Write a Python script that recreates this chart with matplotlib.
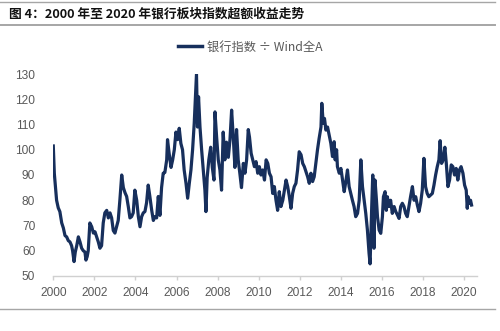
import matplotlib
matplotlib.use("Agg")
import matplotlib.pyplot as plt
from matplotlib.lines import Line2D

# Bank sector index relative to Wind All-A (decimal years)
years = [
    2000.00, 2000.05, 2000.11, 2000.16, 2000.24, 2000.32, 2000.41, 2000.49, 2000.57, 2000.65,
    2000.73, 2000.81, 2000.89, 2000.94, 2001.01, 2001.07, 2001.14, 2001.22, 2001.30, 2001.38,
    2001.46, 2001.54, 2001.59, 2001.65, 2001.70, 2001.78, 2001.87, 2001.95, 2002.03, 2002.11,
    2002.19, 2002.27, 2002.35, 2002.43, 2002.51, 2002.60, 2002.68, 2002.76, 2002.84, 2002.92,
    2003.00, 2003.08, 2003.16, 2003.24, 2003.33, 2003.41, 2003.49, 2003.57, 2003.65, 2003.73,
    2003.81, 2003.89, 2003.97, 2004.06, 2004.14, 2004.22, 2004.30, 2004.38, 2004.46, 2004.54,
    2004.62, 2004.70, 2004.79, 2004.87, 2004.95, 2005.03, 2005.11, 2005.19, 2005.27, 2005.35,
    2005.43, 2005.52, 2005.56, 2005.64, 2005.73, 2005.81, 2005.89, 2005.97, 2006.05, 2006.13,
    2006.21, 2006.29, 2006.37, 2006.46, 2006.54, 2006.62, 2006.70, 2006.78, 2006.86, 2006.91,
    2006.97, 2007.02, 2007.07, 2007.14, 2007.22, 2007.30, 2007.38, 2007.43, 2007.49, 2007.57,
    2007.66, 2007.74, 2007.82, 2007.87, 2007.95, 2008.03, 2008.11, 2008.19, 2008.27, 2008.35,
    2008.43, 2008.52, 2008.60, 2008.68, 2008.76, 2008.84, 2008.92, 2009.00, 2009.08, 2009.16,
    2009.25, 2009.33, 2009.41, 2009.49, 2009.55, 2009.63, 2009.71, 2009.79, 2009.87, 2009.95,
    2010.03, 2010.11, 2010.19, 2010.28, 2010.36, 2010.44, 2010.52, 2010.60, 2010.68, 2010.76,
    2010.84, 2010.92, 2011.00, 2011.08, 2011.17, 2011.25, 2011.33, 2011.41, 2011.49, 2011.57,
    2011.65, 2011.73, 2011.81, 2011.89, 2011.97, 2012.06, 2012.14, 2012.22, 2012.30, 2012.38,
    2012.46, 2012.54, 2012.62, 2012.70, 2012.78, 2012.86, 2012.94, 2013.03, 2013.07, 2013.14,
    2013.20, 2013.27, 2013.35, 2013.43, 2013.51, 2013.59, 2013.67, 2013.72, 2013.79, 2013.83,
    2013.92, 2014.00, 2014.08, 2014.16, 2014.24, 2014.32, 2014.40, 2014.48, 2014.56, 2014.64,
    2014.72, 2014.81, 2014.89, 2014.97, 2015.05, 2015.13, 2015.21, 2015.29, 2015.37, 2015.42,
    2015.50, 2015.55, 2015.61, 2015.66, 2015.73, 2015.78, 2015.86, 2015.94, 2016.02, 2016.07,
    2016.15, 2016.21, 2016.26, 2016.34, 2016.42, 2016.50, 2016.59, 2016.67, 2016.75, 2016.83,
    2016.91, 2016.99, 2017.07, 2017.15, 2017.23, 2017.31, 2017.39, 2017.48, 2017.56, 2017.64,
    2017.72, 2017.80, 2017.88, 2017.96, 2018.04, 2018.12, 2018.20, 2018.28, 2018.37, 2018.45,
    2018.53, 2018.61, 2018.69, 2018.77, 2018.83, 2018.90, 2018.98, 2019.06, 2019.13, 2019.21,
    2019.29, 2019.37, 2019.45, 2019.53, 2019.61, 2019.69, 2019.77, 2019.85, 2019.94, 2020.02,
    2020.10, 2020.15, 2020.19, 2020.26, 2020.31, 2020.36,
]
ratio = [
    101.5, 90.6, 85.0, 80.0, 77.0, 75.5, 71.0, 69.0, 66.0, 65.5,
    64.0, 63.5, 62.0, 60.0, 55.7, 59.5, 62.0, 65.5, 63.5, 61.0,
    60.0, 59.5, 56.3, 57.7, 60.0, 71.0, 69.5, 67.0, 67.5, 65.5,
    63.5, 61.0, 62.0, 71.0, 75.0, 76.0, 73.0, 75.0, 73.0, 68.0,
    67.0, 69.5, 72.0, 80.0, 90.0, 85.0, 83.0, 81.5, 77.5, 73.0,
    73.5, 75.0, 84.0, 80.0, 73.5, 69.5, 73.5, 75.0, 75.5, 79.0,
    86.0, 81.5, 76.0, 72.0, 73.5, 73.0, 81.5, 74.0, 85.0, 90.7,
    91.0, 96.0, 104.0, 98.5, 93.0, 96.0, 100.0, 107.0, 104.0, 108.5,
    102.5, 100.0, 92.0, 86.7, 80.8, 86.7, 92.0, 100.0, 110.5, 119.7,
    130.0, 109.0, 121.0, 109.0, 100.0, 92.0, 84.0, 75.5, 89.0, 96.0,
    101.0, 93.0, 88.0, 115.0, 105.0, 96.0, 92.0, 84.0, 107.0, 96.0,
    103.0, 97.0, 104.0, 115.7, 105.0, 93.0, 108.0, 96.0, 90.7, 85.0,
    94.6, 90.7, 96.0, 108.0, 105.0, 98.6, 96.0, 93.3, 95.3, 90.7,
    93.3, 90.0, 92.0, 88.0, 96.0, 94.6, 90.7, 89.3, 82.7, 85.4,
    80.0, 76.0, 83.4, 77.5, 80.0, 84.0, 88.0, 85.4, 81.4, 76.8,
    82.7, 85.4, 86.7, 92.0, 99.2, 98.0, 94.6, 93.3, 91.3, 89.3,
    86.7, 90.7, 87.4, 89.3, 94.6, 100.0, 104.5, 109.0, 118.4, 110.5,
    112.4, 107.8, 109.0, 105.8, 102.5, 97.3, 103.2, 96.0, 100.0, 93.3,
    90.7, 92.6, 88.0, 83.4, 87.4, 92.0, 85.4, 82.7, 80.0, 77.5,
    73.5, 74.8, 80.0, 96.0, 85.4, 80.0, 74.8, 68.2, 59.0, 54.8,
    77.5, 90.0, 61.0, 88.0, 80.0, 73.5, 68.2, 66.9, 73.5, 81.4,
    83.4, 76.0, 81.4, 77.5, 80.0, 74.8, 77.5, 75.5, 74.2, 72.8,
    77.5, 78.8, 77.5, 74.8, 73.5, 77.5, 81.4, 85.4, 80.0, 81.4,
    78.1, 75.5, 78.8, 84.0, 96.6, 85.4, 82.7, 81.4, 82.1, 82.7,
    86.0, 90.0, 93.3, 96.0, 103.6, 94.6, 96.0, 101.0, 94.6, 85.4,
    88.0, 94.0, 93.3, 90.0, 92.6, 88.0, 92.0, 93.3, 90.7, 86.0,
    84.0, 76.8, 81.4, 78.8, 80.0, 78.1,
]

x_ticks = [2000, 2002, 2004, 2006, 2008, 2010, 2012, 2014, 2016, 2018, 2020]
y_ticks = [50, 60, 70, 80, 90, 100, 110, 120, 130]

title_text = "图 4：2000 年至 2020 年银行板块指数超额收益走势"
series_label = "银行指数 ÷ Wind全A"

LINE_COLOR = "#172f5c"
TEXT_GRAY = "#595959"
RULE_GRAY = "#a6a6a6"
CJK = ["Noto Sans CJK SC", "DejaVu Sans"]

fig = plt.figure(figsize=(5.0, 3.31), dpi=100)
fig.patch.set_facecolor("white")

ax = fig.add_axes([0.1066, 0.1662, 0.8464, 0.6102])
ax.plot(years, ratio, color=LINE_COLOR, linewidth=2.3, solid_joinstyle="round")

ax.set_xlim(2000, 2020.6)
ax.set_ylim(50, 130)
ax.set_xticks(x_ticks)
ax.set_yticks(y_ticks)

for side in ("left", "right", "top"):
    ax.spines[side].set_visible(False)
ax.spines["bottom"].set_color("#d0d0d0")
ax.spines["bottom"].set_linewidth(1.0)
ax.tick_params(axis="x", direction="out", length=3, width=1.0, color="#d0d0d0",
               pad=5, labelsize=8.6, labelcolor=TEXT_GRAY)
ax.tick_params(axis="y", length=0, pad=13, labelsize=8.6, labelcolor=TEXT_GRAY)
for lab in ax.get_xticklabels() + ax.get_yticklabels():
    lab.set_fontfamily(["Liberation Sans", "DejaVu Sans"])

# header rules and title
fig.add_artist(Line2D([0.0, 0.99], [1 - 2 / 331, 1 - 2 / 331], transform=fig.transFigure,
                      color=RULE_GRAY, linewidth=1.0))
fig.add_artist(Line2D([0.0, 0.99], [1 - 25 / 331, 1 - 25 / 331], transform=fig.transFigure,
                      color=RULE_GRAY, linewidth=1.4))
fig.add_artist(Line2D([0.0, 0.99], [1 - 309 / 331, 1 - 309 / 331], transform=fig.transFigure,
                      color=RULE_GRAY, linewidth=1.0))
fig.text(9 / 500, 1 - 14.5 / 331, title_text, family=CJK, fontsize=9.2, fontweight="bold",
         color="#111111", ha="left", va="center")

# legend
handle = Line2D([], [], color=LINE_COLOR, linewidth=2.5)
leg = fig.legend([handle], [series_label], loc="center", bbox_to_anchor=(0.5, 1 - 47 / 331),
                 frameon=False, handlelength=2.0, handletextpad=0.4,
                 prop={"family": CJK, "size": 8.8})
for t in leg.get_texts():
    t.set_color(TEXT_GRAY)

fig.savefig("out.png", dpi=100, facecolor="white")
